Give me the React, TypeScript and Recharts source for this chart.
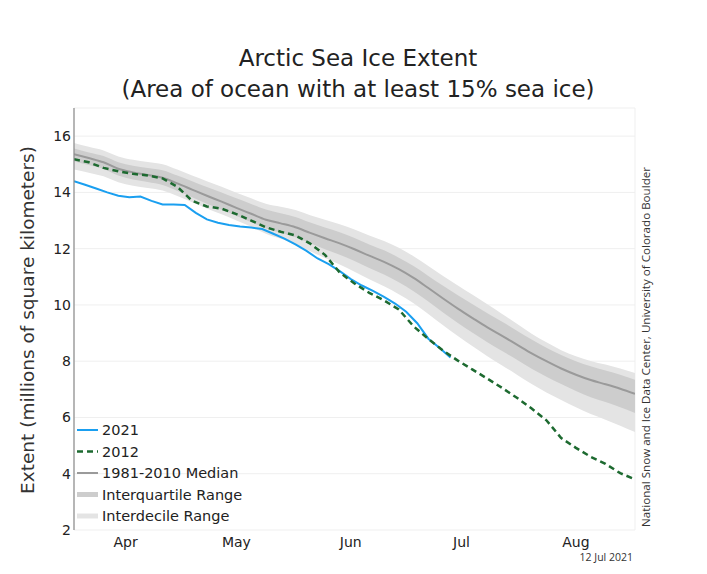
import { ComposedChart, Line, Area, XAxis, YAxis, CartesianGrid } from 'recharts';

// day-of-year grid (every 4 days, Apr 1 .. Aug 31) for the climatology and 2012
const days = [91, 95, 99, 103, 107, 111, 115, 119, 123, 127, 131, 135, 139, 143, 147, 151, 155, 159, 163, 167, 171, 175, 179, 183, 187, 191, 195, 199, 203, 207, 211, 215, 219, 223, 227, 231, 235, 239, 243];

const median = [15.36, 15.22, 15.07, 14.84, 14.71, 14.62, 14.52, 14.32, 14.10, 13.88, 13.67, 13.45, 13.24, 13.03, 12.90, 12.76, 12.56, 12.37, 12.19, 11.98, 11.75, 11.53, 11.27, 10.96, 10.60, 10.23, 9.87, 9.53, 9.20, 8.90, 8.59, 8.28, 8.00, 7.74, 7.52, 7.33, 7.18, 7.02, 6.84];
const iqrLow = [15.11, 14.97, 14.83, 14.60, 14.46, 14.37, 14.26, 14.05, 13.83, 13.60, 13.38, 13.16, 12.94, 12.72, 12.57, 12.41, 12.19, 11.98, 11.78, 11.56, 11.31, 11.08, 10.81, 10.49, 10.12, 9.73, 9.36, 9.01, 8.67, 8.36, 8.05, 7.73, 7.45, 7.19, 6.94, 6.72, 6.55, 6.36, 6.16];
const iqrHigh = [15.56, 15.42, 15.29, 15.07, 14.95, 14.87, 14.79, 14.60, 14.40, 14.19, 14.00, 13.79, 13.59, 13.39, 13.26, 13.13, 12.93, 12.75, 12.58, 12.38, 12.15, 11.94, 11.68, 11.38, 11.03, 10.68, 10.34, 10.02, 9.70, 9.40, 9.08, 8.77, 8.48, 8.22, 8.00, 7.82, 7.67, 7.52, 7.34];
const idrLow = [14.81, 14.70, 14.57, 14.36, 14.24, 14.16, 14.07, 13.87, 13.65, 13.43, 13.22, 13.00, 12.78, 12.53, 12.35, 12.16, 11.91, 11.67, 11.44, 11.18, 10.91, 10.66, 10.38, 10.06, 9.68, 9.28, 8.90, 8.53, 8.18, 7.85, 7.52, 7.19, 6.89, 6.62, 6.36, 6.12, 5.92, 5.71, 5.48];
const idrHigh = [15.76, 15.62, 15.49, 15.28, 15.16, 15.08, 15.00, 14.81, 14.60, 14.40, 14.20, 13.99, 13.79, 13.60, 13.49, 13.37, 13.19, 13.03, 12.87, 12.68, 12.47, 12.27, 12.03, 11.73, 11.38, 11.03, 10.69, 10.36, 10.02, 9.68, 9.33, 8.98, 8.67, 8.39, 8.18, 8.01, 7.88, 7.74, 7.58];

const ext2012 = [15.18, 15.07, 14.87, 14.75, 14.66, 14.60, 14.50, 14.20, 13.70, 13.50, 13.42, 13.23, 13.00, 12.76, 12.60, 12.47, 12.18, 11.78, 11.15, 10.76, 10.43, 10.16, 9.84, 9.24, 8.79, 8.38, 8.02, 7.70, 7.38, 7.05, 6.70, 6.32, 5.90, 5.27, 4.92, 4.60, 4.35, 4.02, 3.80];

// 2021 runs every 3 days up to Jul 12
const days2021 = [91, 94, 97, 100, 103, 106, 109, 112, 115, 118, 121, 124, 127, 130, 133, 136, 139, 142, 145, 148, 151, 154, 157, 160, 163, 166, 169, 172, 175, 178, 181, 184, 187, 190, 193];
const ext2021 = [14.40, 14.27, 14.14, 14.00, 13.88, 13.83, 13.85, 13.70, 13.57, 13.57, 13.55, 13.27, 13.04, 12.92, 12.84, 12.79, 12.75, 12.70, 12.53, 12.36, 12.15, 11.92, 11.65, 11.45, 11.20, 10.92, 10.69, 10.50, 10.29, 10.05, 9.76, 9.35, 8.80, 8.48, 8.13];

const monthStarts = [121, 152, 182, 213];
const monthMids = [105, 135, 166, 196, 227];
const monthNames = ['Apr', 'May', 'Jun', 'Jul', 'Aug'];
const yTicks = [2, 4, 6, 8, 10, 12, 14, 16];

const C2021 = '#1a9ff0';
const C2012 = '#1d6a30';
const CMED = '#9a9a9a';
const CIQR = '#cdcdcd';
const CIDR = '#e4e4e4';

type Row = { day: number; median?: number; iqr?: number[]; idr?: number[]; y2012?: number; y2021?: number };

const byDay = new Map<number, Row>();
const rowFor = (d: number) => {
  if (!byDay.has(d)) byDay.set(d, { day: d });
  return byDay.get(d)!;
};
days.forEach((d, i) => {
  const r = rowFor(d);
  r.median = median[i];
  r.iqr = [iqrLow[i], iqrHigh[i]];
  r.idr = [idrLow[i], idrHigh[i]];
  r.y2012 = ext2012[i];
});
days2021.forEach((d, i) => {
  rowFor(d).y2021 = ext2021[i];
});
const rows = Array.from(byDay.values()).sort((a, b) => a.day - b.day);

const FONT = '"DejaVu Sans", sans-serif';

const legendItems = [
  { label: '2021', color: C2021, width: 2, dash: undefined as string | undefined },
  { label: '2012', color: C2012, width: 2.5, dash: '6 4' },
  { label: '1981-2010 Median', color: CMED, width: 2, dash: undefined },
  { label: 'Interquartile Range', color: CIQR, width: 5, dash: undefined },
  { label: 'Interdecile Range', color: CIDR, width: 5, dash: undefined },
];

export default function App() {
  return (
    <div style={{ position: 'absolute', left: 0, top: 0, width: 707, height: 574, background: '#fff', fontFamily: FONT }}>
      <ComposedChart
        width={707}
        height={574}
        data={rows}
        margin={{ top: 108, right: 72, bottom: 14, left: 34 }}
      >
        <CartesianGrid stroke="#efefef" strokeWidth={1} />
        <XAxis
          dataKey="day"
          type="number"
          domain={[91, 243]}
          ticks={monthStarts}
          allowDataOverflow
          mirror
          height={0}
          tick={false}
          tickSize={4}
          axisLine={{ stroke: '#8a8a8a', strokeWidth: 1.2 }}
          tickLine={{ stroke: '#8a8a8a' }}
        />
        <XAxis
          xAxisId="lbl"
          dataKey="day"
          type="number"
          domain={[91, 243]}
          ticks={monthMids}
          height={30}
          axisLine={false}
          tickLine={false}
          tickSize={0}
          tickMargin={7}
          tickFormatter={(v: number) => monthNames[monthMids.indexOf(v)] ?? ''}
          tick={{ fill: '#222', fontSize: 14, fontFamily: FONT }}
        />
        <YAxis
          type="number"
          domain={[2, 17]}
          ticks={yTicks}
          allowDataOverflow
          width={40}
          tickSize={0}
          tickMargin={3}
          tickLine={false}
          axisLine={{ stroke: '#8a8a8a', strokeWidth: 1.2 }}
          tick={{ fill: '#222', fontSize: 14, fontFamily: FONT }}
        />
        <Area dataKey="idr" type="monotone" stroke="none" fill={CIDR} fillOpacity={1} connectNulls isAnimationActive={false} />
        <Area dataKey="iqr" type="monotone" stroke="none" fill={CIQR} fillOpacity={1} connectNulls isAnimationActive={false} />
        <Line dataKey="median" type="monotone" stroke={CMED} strokeWidth={2} dot={false} connectNulls isAnimationActive={false} />
        <Line dataKey="y2021" type="linear" stroke={C2021} strokeWidth={2} dot={false} connectNulls isAnimationActive={false} />
        <Line dataKey="y2012" type="linear" stroke={C2012} strokeWidth={2.5} strokeDasharray="6 4" dot={false} connectNulls isAnimationActive={false} />
      </ComposedChart>

      <svg width={707} height={574} style={{ position: 'absolute', left: 0, top: 0, pointerEvents: 'none' }}>
        <text x={358} y={66} textAnchor="middle" fontSize={23} fill="#222" fontFamily={FONT}>
          Arctic Sea Ice Extent
        </text>
        <text x={358} y={97} textAnchor="middle" fontSize={23} fill="#222" fontFamily={FONT}>
          (Area of ocean with at least 15% sea ice)
        </text>
        <text
          transform="translate(27,320) rotate(-90)"
          textAnchor="middle"
          dominantBaseline="central"
          fontSize={18.5}
          fill="#333"
          fontFamily={FONT}
        >
          Extent (millions of square kilometers)
        </text>
        <text
          transform="translate(645,347) rotate(-90)"
          textAnchor="middle"
          dominantBaseline="central"
          fontSize={11.6}
          fill="#333"
          fontFamily='"Open Sans", sans-serif'
        >
          National Snow and Ice Data Center, University of Colorado Boulder
        </text>
        <text x={633} y={561} textAnchor="end" fontSize={10.5} fill="#333" fontFamily='"Open Sans", sans-serif'>
          12 Jul 2021
        </text>
        {legendItems.map((it, i) => {
          const cy = 430 + i * 21.5;
          return (
            <g key={it.label}>
              <line x1={77} x2={98} y1={cy} y2={cy} stroke={it.color} strokeWidth={it.width} strokeDasharray={it.dash} />
              <text x={102} y={cy + 5.3} fontSize={14.5} fill="#222" fontFamily={FONT}>
                {it.label}
              </text>
            </g>
          );
        })}
      </svg>
    </div>
  );
}
